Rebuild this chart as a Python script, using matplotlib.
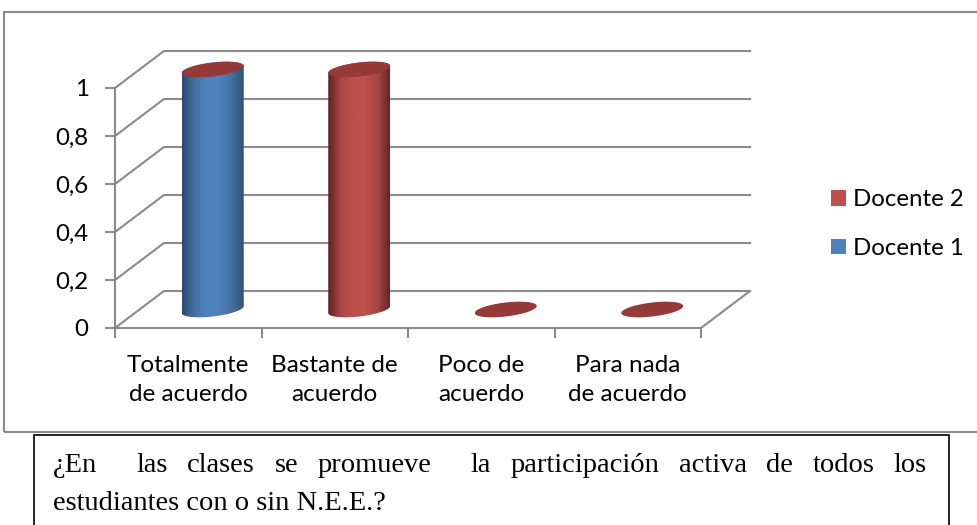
#!/usr/bin/env python3
"""3D-look stacked cylinder chart with a question box below it."""
import matplotlib
matplotlib.use("Agg")
import matplotlib.pyplot as plt
import numpy as np
from matplotlib.colors import LinearSegmentedColormap
from matplotlib.patches import Patch, PathPatch, Polygon, Rectangle
from matplotlib.path import Path

categories = ["Totalmente\nde acuerdo", "Bastante de\nacuerdo", "Poco de\nacuerdo", "Para nada\nde acuerdo"]
docente_1 = [1, 0, 0, 0]
docente_2 = [0, 1, 0, 0]
y_ticks = [0, 0.2, 0.4, 0.6, 0.8, 1]
y_tick_labels = ["0", "0,2", "0,4", "0,6", "0,8", "1"]
# the double spaces are in the original text and widen the justified gaps
question_line_1 = "¿En  las clases se promueve  la participación activa de todos los".split(" ")
question_line_2 = "estudiantes con o sin N.E.E.?"

W, H = 977, 525
GRID = "#8a8a8a"
CAP = "#953a38"
# front plane of the plot, in pixels
LEFT, RIGHT, BOTTOM, TOP = 115, 701, 328, 88
PX_X = (RIGHT - LEFT) / 4
PX_Y = BOTTOM - TOP
DEPTH_X = 49 / PX_X
DEPTH_Y = 37 / PX_Y
BAR_A = 31 / PX_X
BAR_TILT = 3.5 / PX_Y
BAR_B = 7 / PX_Y

plt.rcParams["font.family"] = ["Lato", "DejaVu Sans"]


def ellipse_xy(cx, cy, t):
    return cx + BAR_A * np.cos(t), cy + BAR_TILT * np.cos(t) + BAR_B * np.sin(t)


def draw_cap(ax, cx, cy, color=CAP):
    t = np.linspace(0, 2 * np.pi, 80)
    x, y = ellipse_xy(cx, cy, t)
    ax.add_patch(Polygon(np.column_stack([x, y]), facecolor=color, edgecolor="none", zorder=5, clip_on=False))


def draw_cylinder(ax, cx, y0, y1, cmap):
    t_low = np.linspace(np.pi, 2 * np.pi, 50)
    t_up = np.linspace(0, np.pi, 50)
    xb, yb = ellipse_xy(cx, y0, t_low)
    xt, yt = ellipse_xy(cx, y1, t_up)
    verts = np.column_stack([np.r_[xb, xt], np.r_[yb, yt]])
    clip = PathPatch(Path(np.vstack([verts, verts[0]])), transform=ax.transData, facecolor="none", edgecolor="none")
    ax.add_patch(clip)
    grad = np.linspace(0, 1, 128).reshape(1, -1)
    im = ax.imshow(grad, cmap=cmap, aspect="auto", zorder=4, interpolation="bilinear",
                   extent=(cx - BAR_A, cx + BAR_A, y0 - 2 * BAR_B, y1 + 2 * BAR_B))
    im.set_clip_path(clip)
    # the cylinder stands past the axes top because of the depth offset
    im.set_clip_box(ax.figure.bbox)


def main():
    fig = plt.figure(figsize=(W / 100, H / 100), dpi=100, facecolor="white")
    ax = fig.add_axes([LEFT / W, 1 - BOTTOM / H, (RIGHT - LEFT) / W, (BOTTOM - TOP) / H])
    ax.patch.set_alpha(0)

    blue = LinearSegmentedColormap.from_list("b", ["#2b4a70", "#44719f", "#4f81bd", "#4f81bd", "#44719f", "#2f5279"])
    red = LinearSegmentedColormap.from_list("r", ["#5f2321", "#a64644", "#c0504d", "#c0504d", "#a64644", "#672624"])

    n = len(categories)
    # walls and floor
    for v in y_ticks:
        ax.plot([0, DEPTH_X, n + DEPTH_X], [v, v + DEPTH_Y, v + DEPTH_Y], color=GRID, lw=1.5, clip_on=False, zorder=1)
    ax.plot([n, n + DEPTH_X], [0, DEPTH_Y], color=GRID, lw=1.5, clip_on=False, zorder=1)

    # stacked cylinders, half way into the depth of the floor
    for i in range(n):
        cx = i + 0.5 + DEPTH_X / 2
        base = DEPTH_Y / 2
        for values, cmap in ((docente_1, blue), (docente_2, red)):
            if values[i] > 0:
                draw_cylinder(ax, cx, base, base + values[i], cmap)
                base += values[i]
        draw_cap(ax, cx, base)

    ax.set_xlim(0, n)
    ax.set_ylim(0, 1)
    for side in ("top", "right"):
        ax.spines[side].set_visible(False)
    for side in ("left", "bottom"):
        ax.spines[side].set_color(GRID)
        ax.spines[side].set_linewidth(1.5)
    ax.set_yticks(y_ticks, y_tick_labels, fontsize=17.3, color="black")
    ax.set_xticks(range(n + 1), [""] * (n + 1))
    ax.set_xticks(np.arange(n) + 0.5, categories, minor=True, fontsize=17.5, linespacing=1.45)
    ax.tick_params(axis="y", length=7, width=1.5, color=GRID, pad=12)
    ax.tick_params(axis="x", which="major", length=7.5, width=1.5, color=GRID)
    ax.tick_params(axis="x", which="minor", length=0, pad=19.5)

    handles = [Patch(facecolor="#c0504d"), Patch(facecolor="#4f81bd")]
    fig.legend(handles, ["Docente 2", "Docente 1"], loc="center left", bbox_to_anchor=(831 / W, 1 - 224 / H),
               frameon=False, fontsize=17.3, handlelength=0.62, handleheight=0.62, labelspacing=1.15,
               handletextpad=0.28, borderpad=0, borderaxespad=0)

    # chart frame and question box
    fig.add_artist(Rectangle((4 / W, 1 - 432 / H), 990 / W, 420 / H, transform=fig.transFigure,
                             facecolor="none", edgecolor=GRID, lw=1.5))
    fig.add_artist(Rectangle((33.5 / W, -10 / H), 915 / W, (H + 10 - 434.5) / H, transform=fig.transFigure,
                             facecolor="none", edgecolor="black", lw=1.2))

    # first line is justified, so each word gets its own position
    serif = dict(family=["Liberation Serif", "DejaVu Serif"], fontsize=20.5, color="black", va="baseline")
    renderer = fig.canvas.get_renderer()
    words = [fig.text(0, 0, w, **serif) for w in question_line_1]
    widths = [w.get_window_extent(renderer).width for w in words]
    x0, x1 = 53, 927
    gap = (x1 - x0 - sum(widths)) / (len(words) - 1)
    x = x0
    for word, width in zip(words, widths):
        word.set_position((x / W, 1 - 472 / H))
        x += width + gap
    fig.text(x0 / W, 1 - 510 / H, question_line_2, **serif)

    fig.savefig("out.png", dpi=100)


if __name__ == "__main__":
    main()
